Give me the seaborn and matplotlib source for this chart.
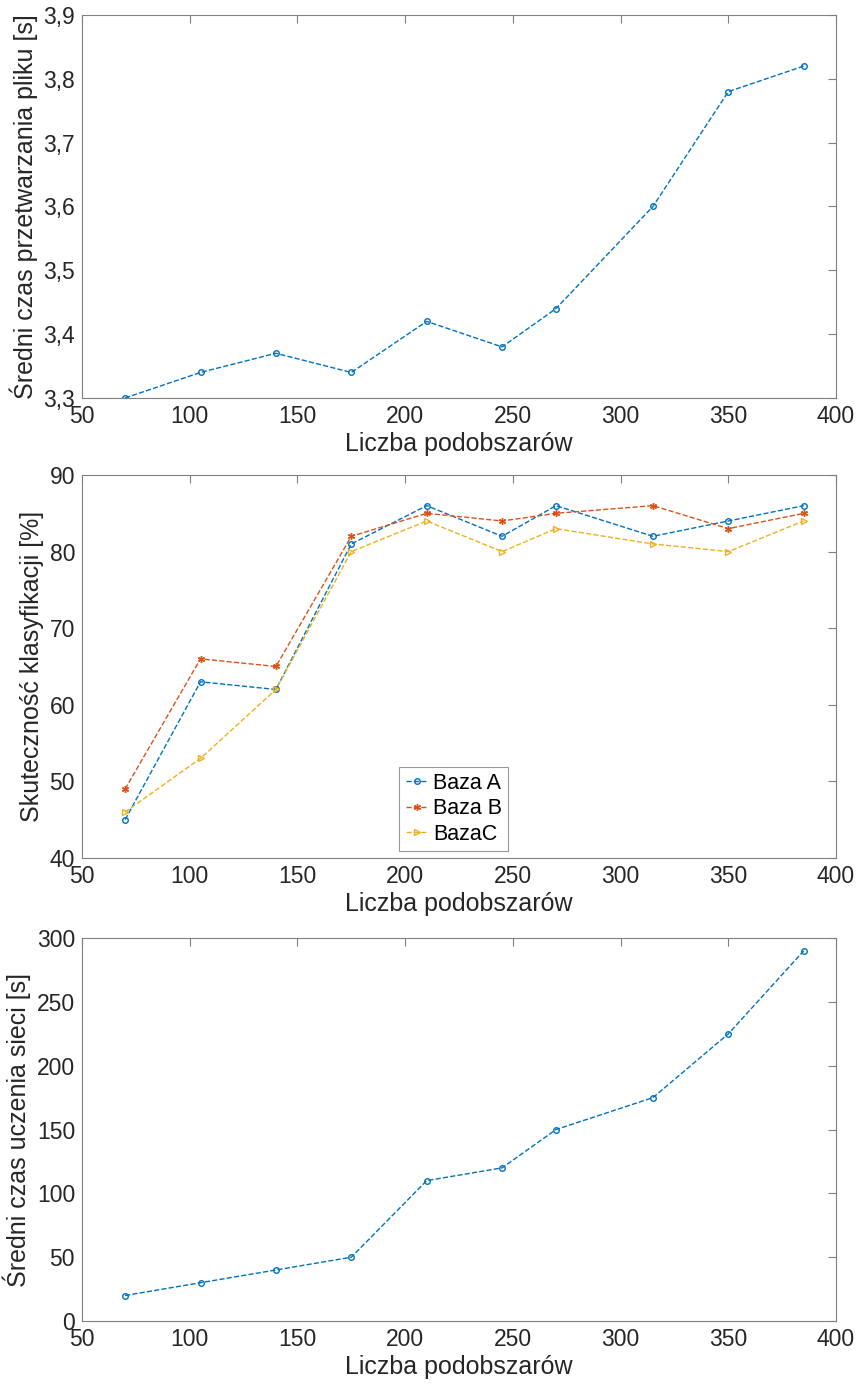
import matplotlib
matplotlib.use("Agg")
import matplotlib.pyplot as plt
from matplotlib.ticker import FuncFormatter, MultipleLocator
import seaborn as sns
import pandas as pd

# Number of sub-regions tested
podobszary = [70, 105, 140, 175, 210, 245, 270, 315, 350, 385]

# Mean file processing time [s]
czas_przetwarzania = [3.30, 3.34, 3.37, 3.34, 3.42, 3.38, 3.44, 3.60, 3.78, 3.82]

# Classification accuracy [%] for three databases
baza_a = [45, 63, 62, 81, 86, 82, 86, 82, 84, 86]
baza_b = [49, 66, 65, 82, 85, 84, 85, 86, 83, 85]
baza_c = [46, 53, 62, 80, 84, 80, 83, 81, 80, 84]
nazwy_baz = ["Baza A", "Baza B", "BazaC"]

# Mean network training time [s]
czas_uczenia = [20, 30, 40, 50, 110, 120, 150, 175, 225, 290]

x_label = "Liczba podobszarów"

sns.set_style("white")
plt.rcParams["font.family"] = ["Liberation Sans", "DejaVu Sans"]

BLUE = "#0072BD"
ORANGE = "#D95319"
YELLOW = "#EDB120"
AXC = "#808080"
TXT = "#262626"

fig = plt.figure(figsize=(8.66, 13.91), dpi=100)
L, W, H = 0.0947, 0.8707, 0.2753
ax1 = fig.add_axes([L, 0.7139, W, H])
ax2 = fig.add_axes([L, 0.3832, W, H])
ax3 = fig.add_axes([L, 0.0503, W, H])

comma = FuncFormatter(lambda v, p: (f"{v:.1f}").replace(".", ","))
intfmt = FuncFormatter(lambda v, p: f"{v:.0f}")


def style_axes(ax, ylim, ystep, ylabel, yfmt):
    ax.set_xlim(50, 400)
    ax.set_ylim(*ylim)
    ax.xaxis.set_major_locator(MultipleLocator(50))
    ax.yaxis.set_major_locator(MultipleLocator(ystep))
    ax.xaxis.set_major_formatter(intfmt)
    ax.yaxis.set_major_formatter(yfmt)
    ax.tick_params(direction="in", length=6, width=0.8, color=AXC,
                   labelsize=16.5, labelcolor=TXT, top=True, right=True,
                   pad=5)
    for s in ax.spines.values():
        s.set_visible(True)
        s.set_color(AXC)
        s.set_linewidth(0.8)
    ax.set_xlabel(x_label, fontsize=18, color=TXT, labelpad=3)
    ax.set_ylabel(ylabel, fontsize=18, color=TXT, labelpad=4)
    ax.grid(False)


line_kw = dict(linestyle="--", linewidth=1.0, markeredgewidth=1.0,
               markerfacecolor="none")

# Top panel: processing time
d1 = pd.DataFrame({"x": podobszary, "y": czas_przetwarzania})
sns.lineplot(data=d1, x="x", y="y", ax=ax1, color=BLUE, marker="o",
             markersize=4, markeredgecolor=BLUE, **line_kw)
style_axes(ax1, (3.3, 3.9), 0.1, "Średni czas przetwarzania pliku [s]", comma)

# Middle panel: classification accuracy
serie = [(baza_a, BLUE, "o", 4), (baza_b, ORANGE, (6, 2, 0), 5),
         (baza_c, YELLOW, ">", 4.5)]
for (vals, col, mk, ms), name in zip(serie, nazwy_baz):
    d = pd.DataFrame({"x": podobszary, "y": vals})
    sns.lineplot(data=d, x="x", y="y", ax=ax2, color=col, marker=mk,
                 markersize=ms, markeredgecolor=col, label=name, **line_kw)
style_axes(ax2, (40, 90), 10, "Skuteczność klasyfikacji [%]", intfmt)
leg = ax2.legend(loc="lower left", bbox_to_anchor=(0.421, 0.018),
                 fontsize=15.5, frameon=True, fancybox=False,
                 handlelength=1.0, handletextpad=0.25, borderpad=0.3,
                 labelspacing=0.2, borderaxespad=0)
leg.get_frame().set_edgecolor(AXC)
leg.get_frame().set_linewidth(0.8)
for t in leg.get_texts():
    t.set_color("black")

# Bottom panel: training time
d3 = pd.DataFrame({"x": podobszary, "y": czas_uczenia})
sns.lineplot(data=d3, x="x", y="y", ax=ax3, color=BLUE, marker="o",
             markersize=4, markeredgecolor=BLUE, **line_kw)
style_axes(ax3, (0, 300), 50, "Średni czas uczenia sieci [s]", intfmt)

fig.savefig("out.png", dpi=100)
